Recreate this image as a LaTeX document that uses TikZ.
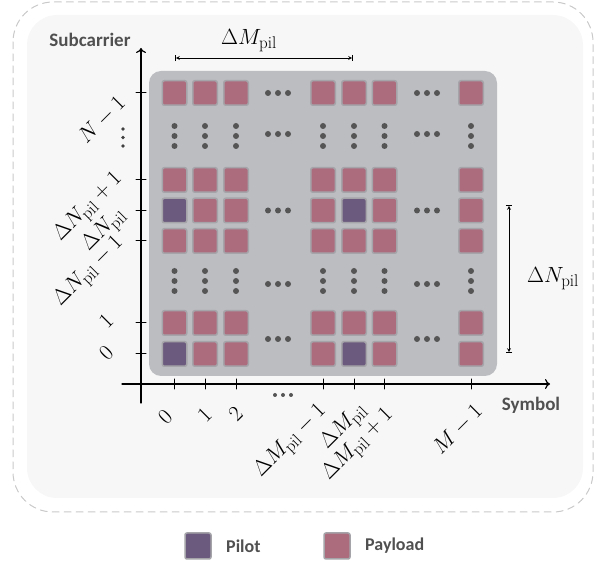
\documentclass[tikz,border=0pt]{standalone}
\usepackage{fix-cm}
\usepackage{amsmath,amssymb}
\usepackage{fontspec}
\newfontfamily\axfont{Carlito}
\usepackage{tikz}
\usetikzlibrary{arrows,arrows.meta}
\DeclareMathSizes{22}{22}{17}{13}
\definecolor{pilotcol}{HTML}{6B5A7D}
\definecolor{payloadcol}{HTML}{AD6B7E}
\definecolor{rimcol}{HTML}{A4A4A9}
\definecolor{panelcol}{HTML}{BCBDC1}
\definecolor{bgcol}{HTML}{F7F7F7}
\definecolor{dashcol}{HTML}{C9C9C9}
\definecolor{dotcol}{HTML}{555555}
\definecolor{txtcol}{HTML}{505050}

\begin{document}
\begin{tikzpicture}[line cap=round,line join=round,>=stealth,x=1pt,y=-1pt,
    payload/.style={draw=rimcol,line width=1.5pt,fill=payloadcol,rounded corners=2pt,minimum size=24.5pt,inner sep=0pt},
    pilot/.style={payload,fill=pilotcol},
    ticklab/.style={rotate=45,anchor=east,inner sep=0pt,font=\fontsize{22}{25}\selectfont},
    axname/.style={text=txtcol,font=\axfont\bfseries\fontsize{19}{22}\selectfont,inner sep=0pt},
    legname/.style={text=txtcol,font=\axfont\bfseries\fontsize{18}{21}\selectfont,inner sep=0pt,anchor=west}]
        \useasboundingbox (0,0) rectangle (598,561);
        \draw [dashcol,line width=1pt,dash pattern=on 7pt off 5pt,rounded corners=40pt] (13,2) rectangle (593,512);
        \fill [bgcol,rounded corners=30pt] (27,15) rectangle (583,498);
        \fill [panelcol,rounded corners=12pt] (149,71) rectangle (497,376);
        % cells, top row N-1
        \node [payload] (c0rt) at (174.5,93) {};
        \node [payload] (c1rt) at (205,93) {};
        \node [payload] (c2rt) at (236,93) {};
        \node [payload] (cm1rt) at (323,93) {};
        \node [payload] (cmrt) at (354,93) {};
        \node [payload] (cp1rt) at (384.5,93) {};
        \node [payload] (clrt) at (471,93) {};
        % cells, rows Delta N - 1 .. Delta N + 1
        \node [payload] (c0rp1) at (174.5,180) {};
        \node [payload] (c1rp1) at (205,180) {};
        \node [payload] (c2rp1) at (236,180) {};
        \node [payload] (cm1rp1) at (323,180) {};
        \node [payload] (cmrp1) at (354,180) {};
        \node [payload] (cp1rp1) at (384.5,180) {};
        \node [payload] (clrp1) at (471,180) {};
        \node [pilot] (c0rn) at (174.5,210.5) {};
        \node [payload] (c1rn) at (205,210.5) {};
        \node [payload] (c2rn) at (236,210.5) {};
        \node [payload] (cm1rn) at (323,210.5) {};
        \node [pilot] (cmrn) at (354,210.5) {};
        \node [payload] (cp1rn) at (384.5,210.5) {};
        \node [payload] (clrn) at (471,210.5) {};
        \node [payload] (c0rm1) at (174.5,241) {};
        \node [payload] (c1rm1) at (205,241) {};
        \node [payload] (c2rm1) at (236,241) {};
        \node [payload] (cm1rm1) at (323,241) {};
        \node [payload] (cmrm1) at (354,241) {};
        \node [payload] (cp1rm1) at (384.5,241) {};
        \node [payload] (clrm1) at (471,241) {};
        % cells, rows 0 and 1
        \node [payload] (c0r1) at (174.5,323) {};
        \node [payload] (c1r1) at (205,323) {};
        \node [payload] (c2r1) at (236,323) {};
        \node [payload] (cm1r1) at (323,323) {};
        \node [payload] (cmr1) at (354,323) {};
        \node [payload] (cp1r1) at (384.5,323) {};
        \node [payload] (clr1) at (471,323) {};
        \node [pilot] (c0r0) at (174.5,354) {};
        \node [payload] (c1r0) at (205,354) {};
        \node [payload] (c2r0) at (236,354) {};
        \node [payload] (cm1r0) at (323,354) {};
        \node [pilot] (cmr0) at (354,354) {};
        \node [payload] (cp1r0) at (384.5,354) {};
        \node [payload] (clr0) at (471,354) {};
        % dots
        \fill [dotcol] (268,93) circle (3pt) (278,93) circle (3pt) (288,93) circle (3pt);
        \fill [dotcol] (417,93) circle (3pt) (427,93) circle (3pt) (437,93) circle (3pt);
        \fill [dotcol] (268,134) circle (3pt) (278,134) circle (3pt) (288,134) circle (3pt);
        \fill [dotcol] (417,134) circle (3pt) (427,134) circle (3pt) (437,134) circle (3pt);
        \fill [dotcol] (268,210.5) circle (3pt) (278,210.5) circle (3pt) (288,210.5) circle (3pt);
        \fill [dotcol] (417,210.5) circle (3pt) (427,210.5) circle (3pt) (437,210.5) circle (3pt);
        \fill [dotcol] (268,284) circle (3pt) (278,284) circle (3pt) (288,284) circle (3pt);
        \fill [dotcol] (417,284) circle (3pt) (427,284) circle (3pt) (437,284) circle (3pt);
        \fill [dotcol] (268,339) circle (3pt) (278,339) circle (3pt) (288,339) circle (3pt);
        \fill [dotcol] (417,339) circle (3pt) (427,339) circle (3pt) (437,339) circle (3pt);
        \fill [dotcol] (174.5,126) circle (3pt) (174.5,136) circle (3pt) (174.5,146) circle (3pt);
        \fill [dotcol] (205,126) circle (3pt) (205,136) circle (3pt) (205,146) circle (3pt);
        \fill [dotcol] (236,126) circle (3pt) (236,136) circle (3pt) (236,146) circle (3pt);
        \fill [dotcol] (323,126) circle (3pt) (323,136) circle (3pt) (323,146) circle (3pt);
        \fill [dotcol] (354,126) circle (3pt) (354,136) circle (3pt) (354,146) circle (3pt);
        \fill [dotcol] (384.5,126) circle (3pt) (384.5,136) circle (3pt) (384.5,146) circle (3pt);
        \fill [dotcol] (471,126) circle (3pt) (471,136) circle (3pt) (471,146) circle (3pt);
        \fill [dotcol] (174.5,271) circle (3pt) (174.5,281) circle (3pt) (174.5,291) circle (3pt);
        \fill [dotcol] (205,271) circle (3pt) (205,281) circle (3pt) (205,291) circle (3pt);
        \fill [dotcol] (236,271) circle (3pt) (236,281) circle (3pt) (236,291) circle (3pt);
        \fill [dotcol] (323,271) circle (3pt) (323,281) circle (3pt) (323,291) circle (3pt);
        \fill [dotcol] (354,271) circle (3pt) (354,281) circle (3pt) (354,291) circle (3pt);
        \fill [dotcol] (384.5,271) circle (3pt) (384.5,281) circle (3pt) (384.5,291) circle (3pt);
        \fill [dotcol] (471,271) circle (3pt) (471,281) circle (3pt) (471,291) circle (3pt);
        \fill [dotcol] (275,395) circle (2pt) (283,395) circle (2pt) (291,395) circle (2pt);
        \fill [black!75] (123,129) circle (1.9pt) (123,137.5) circle (1.9pt) (123,146) circle (1.9pt);
        % axes
        \coordinate (ybot) at (141,403);
        \coordinate (ytop) at (141,48);
        \coordinate (xleft) at (122,384);
        \coordinate (xright) at (550,384);
        \draw [-{To[length=5pt,width=10pt]},line width=1.2pt] (ybot) -- (ytop);
        \draw [-{To[length=5pt,width=10pt]},line width=1.2pt] (xleft) -- (xright);
        \draw [line width=1pt] (136,93)-- (146,93);
        \draw [line width=1pt] (136,180)-- (146,180);
        \draw [line width=1pt] (136,210.5)-- (146,210.5);
        \draw [line width=1pt] (136,241)-- (146,241);
        \draw [line width=1pt] (136,323)-- (146,323);
        \draw [line width=1pt] (136,354)-- (146,354);
        \draw [line width=1pt] (174.5,379)-- (174.5,389);
        \draw [line width=1pt] (205,379)-- (205,389);
        \draw [line width=1pt] (236,379)-- (236,389);
        \draw [line width=1pt] (323,379)-- (323,389);
        \draw [line width=1pt] (354,379)-- (354,389);
        \draw [line width=1pt] (384.5,379)-- (384.5,389);
        \draw [line width=1pt] (471,379)-- (471,389);
        \node [axname] (subc) at (90,40) {Subcarrier};
        \node [axname] (symb) at (531,405) {Symbol};
        % tick labels
        \node [ticklab] (ylab0) at (110,349) {$0$};
        \node [ticklab] (ylab1) at (110,317) {$1$};
        \node [ticklab] (ylabm1) at (121,241) {$\Delta N_{\mathrm{pil}}-1$};
        \node [ticklab] (ylabn) at (123,212) {$\Delta N_{\mathrm{pil}}$};
        \node [ticklab] (ylabp1) at (120,177) {$\Delta N_{\mathrm{pil}}+1$};
        \node [ticklab] (ylabt) at (122,100) {$N-1$};
        \node [ticklab] (xlab0) at (169,413) {$0$};
        \node [ticklab] (xlab1) at (208.5,411.5) {$1$};
        \node [ticklab] (xlab2) at (239.5,410.5) {$2$};
        \node [ticklab] (xlabm1) at (324,409) {$\Delta M_{\mathrm{pil}}-1$};
        \node [ticklab] (xlabm) at (364,407) {$\Delta M_{\mathrm{pil}}$};
        \node [ticklab] (xlabp1) at (391,413) {$\Delta M_{\mathrm{pil}}+1$};
        \node [ticklab] (xlabl) at (479,408) {$M-1$};
        % spacings
        \coordinate (dml) at (175,58);
        \coordinate (dmr) at (353,58);
        \draw [|<->|,line width=0.8pt] (dml) -- (dmr);
        \node [font=\fontsize{22}{25}\selectfont] (dmlab) at (249,41) {$\Delta M_{\mathrm{pil}}$};
        \coordinate (dnt) at (509,205);
        \coordinate (dnb) at (509,353);
        \draw [|<->|,line width=0.8pt] (dnt) -- (dnb);
        \node [font=\fontsize{22}{25}\selectfont] (dnlab) at (553,279) {$\Delta N_{\mathrm{pil}}$};
        % legend
        \node [pilot,minimum size=26pt] (legpilot) at (198,546) {};
        \node [legname] (legpilottxt) at (226,546) {Pilot};
        \node [payload,minimum size=26pt] (legpay) at (337,546) {};
        \node [legname] (legpaytxt) at (365,546) {Payload};
    \end{tikzpicture}
\end{document}
